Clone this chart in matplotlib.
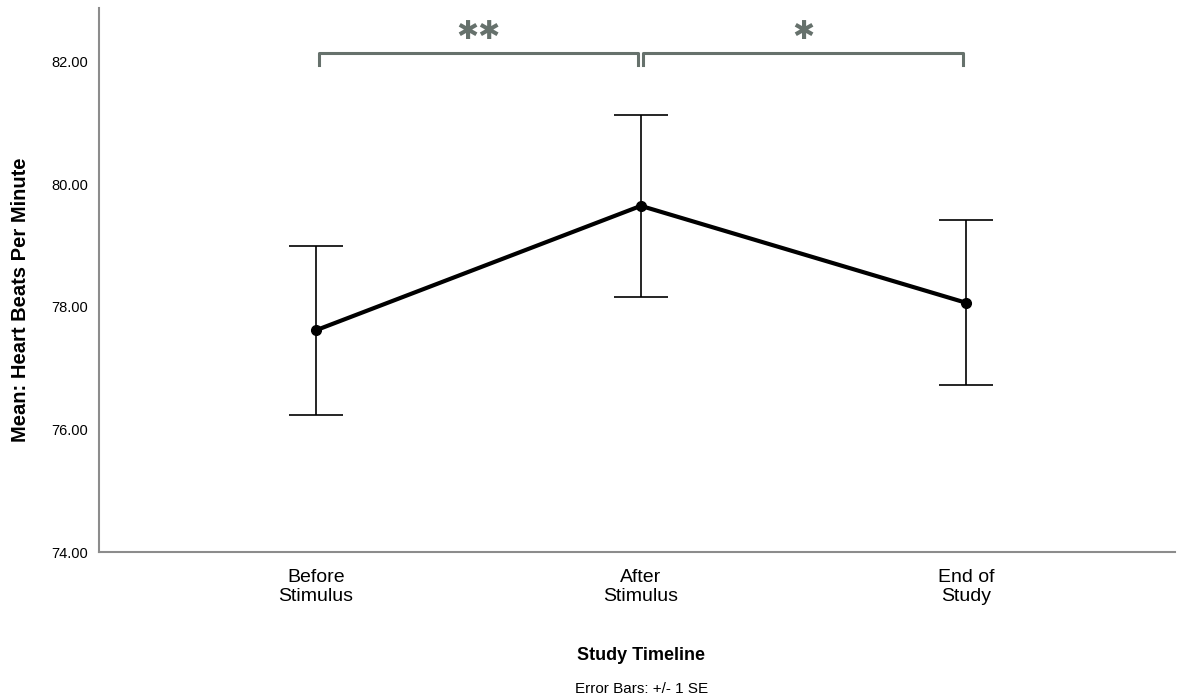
import matplotlib.pyplot as plt
from matplotlib import font_manager

# mean heart rate per study phase, with +/- 1 SE
phases = ['Before\nStimulus', 'After\nStimulus', 'End of\nStudy']
mean_bpm = [77.62, 79.65, 78.07]
se_bpm = [1.38, 1.48, 1.35]

# significance brackets: (from, to, label)
comparisons = [(0, 1, '✱✱'), (1, 2, '✱')]

names = {f.name for f in font_manager.fontManager.ttflist}
narrow = 'Liberation Sans Narrow' if 'Liberation Sans Narrow' in names else 'Liberation Sans'
plt.rcParams['font.family'] = [narrow, 'DejaVu Sans']

fig = plt.figure(figsize=(11.77, 7.0), dpi=100)
ax = fig.add_axes([0.0841, 0.2114, 0.9139, 0.7772])

x = list(range(len(phases)))
ax.errorbar(x, mean_bpm, yerr=se_bpm, fmt='none', ecolor='black',
            elinewidth=1.2, capsize=19.5, capthick=1.2, zorder=2)
ax.plot(x, mean_bpm, color='black', lw=3, marker='o', ms=7, zorder=3)

gray = '#66716c'
for a, b, lab in comparisons:
    x0, x1 = a + 0.008, b - 0.008
    ax.plot([x0, x0, x1, x1], [81.95, 82.15, 82.15, 81.95], color=gray,
            lw=2.2, solid_joinstyle='round', clip_on=False)
    ax.text((a + b) / 2, 82.48, lab, ha='center', va='center', color=gray,
            fontsize=19, family='DejaVu Sans')

ax.set_xlim(-0.668, 2.643)
ax.set_ylim(74, 82.88)
ax.set_yticks([74, 76, 78, 80, 82])
ax.set_yticklabels(['%.2f' % v for v in [74, 76, 78, 80, 82]], fontsize=10.5)
ax.set_xticks(x)
ax.set_xticklabels(phases, fontsize=14, linespacing=1.15)
ax.tick_params(length=0, pad=8)
ax.tick_params(axis='x', pad=12)

for side in ['top', 'right']:
    ax.spines[side].set_visible(False)
for side in ['left', 'bottom']:
    ax.spines[side].set_color('#8c8c8c')
    ax.spines[side].set_linewidth(1.5)

ax.set_ylabel('Mean: Heart Beats Per Minute', fontsize=14.5, fontweight='bold')
ax.yaxis.set_label_coords(-0.064, 0.463)
fig.text(0.545, 0.064, 'Study Timeline', ha='center', va='center',
         fontsize=13, fontweight='bold')
fig.text(0.545, 0.016, 'Error Bars: +/- 1 SE', ha='center', va='center', fontsize=11)

fig.savefig('out.png', dpi=100)
